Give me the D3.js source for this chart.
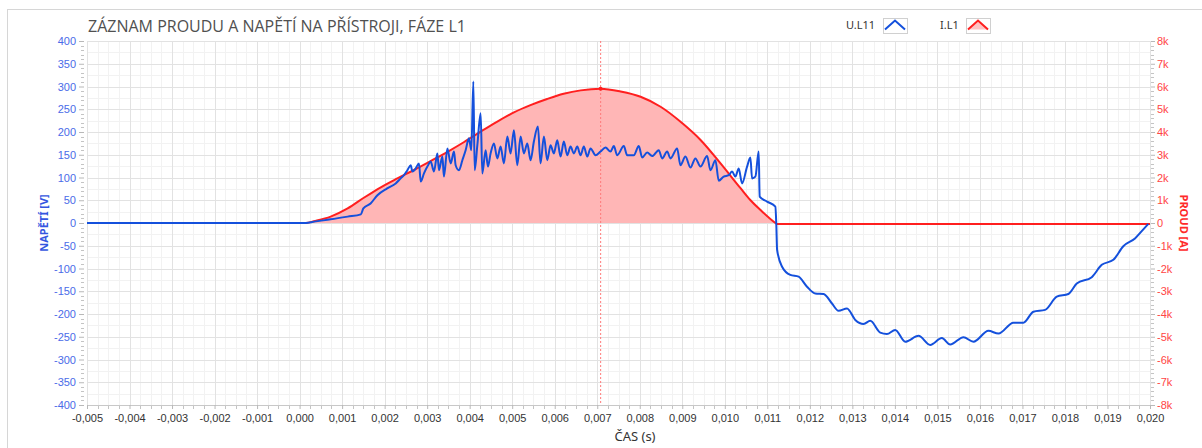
<!DOCTYPE html>
<html lang="cs">
<head>
<meta charset="UTF-8">
<title>Záznam proudu a napětí</title>
<style>
    body { margin: 0; background: #fff; }
    svg { display: block; font-family: "Noto Sans", "Open Sans", sans-serif; }
    .grid-major line { stroke: #e2e2e2; stroke-width: 1px; }
    .grid-minor line { stroke: #f2f2f2; stroke-width: 1px; }
    .axis path { stroke: #c8c8c8; }
    .axis .tick line { stroke: #b8b8b8; }
    .minor-tick line { stroke: #c4c4c4; }
</style>
</head>
<body>
<script src="https://cdn.jsdelivr.net/npm/d3@7"></script>
<script>
    const width = 1202, height = 448;
    const margin = {top: 41, right: 52, bottom: 43, left: 87};

    // time axis in milliseconds, labels shown in seconds
    const timeTicksMs = d3.range(-5, 20.001, 1);
    const voltageTicks = d3.range(-400, 400.001, 50);
    const currentTicks = d3.range(-8000, 8000.001, 1000);

    // I.L1 current [A]
    const currentTimeMs = [-5, 0.15, 0.34, 0.73, 1.13, 1.52, 1.91, 2.30, 2.69, 3.08, 3.48, 3.87, 4.26, 4.65,
        5.04, 5.43, 5.82, 6.21, 6.61, 7.08, 7.55, 8.02, 8.49, 8.96, 9.43, 9.90, 10.37, 10.60, 10.84,
        11.19, 11.22, 20];
    const currentA = [0, 0, 80, 280, 640, 1120, 1570, 1960, 2330, 2720, 3130, 3560, 4020, 4460,
        4860, 5180, 5450, 5680, 5830, 5900, 5780, 5550, 5110, 4450, 3650, 2620, 1530, 1010, 570,
        0, -40, -40];

    // U.L11 voltage [V]
    const voltageTimeMs = [-5, 0.15, 0.34, 0.73, 1.13, 1.44, 1.50, 1.67, 1.83, 2.06, 2.26,
        2.378, 2.455, 2.535, 2.613, 2.653, 2.730, 2.808, 2.848, 2.925, 3.005, 3.083, 3.160, 3.240, 3.278,
        3.358, 3.395, 3.475, 3.553, 3.630, 3.670, 3.748, 3.828, 3.905, 3.983, 4.039, 4.086, 4.117, 4.180,
        4.258, 4.297, 4.375, 4.429, 4.492, 4.570, 4.650, 4.727, 4.805, 4.885, 4.962, 5.040, 5.120, 5.197,
        5.275, 5.355, 5.432, 5.510, 5.604, 5.667, 5.745, 5.825, 5.902, 5.980, 6.060, 6.137, 6.215, 6.295,
        6.372, 6.450, 6.530, 6.607, 6.685, 6.765, 6.842, 6.960, 7.077, 7.195, 7.312, 7.390, 7.470, 7.625,
        7.704, 7.860, 7.977, 8.057, 8.174, 8.292, 8.447, 8.527, 8.644, 8.722, 8.879, 8.957, 9.074, 9.192,
        9.309, 9.427, 9.584, 9.662, 9.779, 9.857, 9.974, 10.092, 10.171, 10.249, 10.327, 10.406, 10.524,
        10.602, 10.641, 10.719, 10.797, 10.820, 10.994, 11.189, 11.212, 11.23,
        11.347, 11.541, 11.736, 11.934, 12.129, 12.324, 12.521, 12.676, 12.874, 13.069, 13.264, 13.421,
        13.656, 13.813, 14.008, 14.243, 14.556, 14.831, 15.105, 15.301, 15.613, 15.848, 16.201, 16.436,
        16.788, 17.023, 17.258, 17.533, 17.808, 18.080, 18.278, 18.630, 18.865, 19.138, 19.372, 19.647,
        19.843, 19.960];
    const voltageV = [0, 0, 3, 8, 14, 19, 32, 43, 61, 76, 87,
        98, 105, 116, 127, 113, 120, 131, 91, 109, 124, 135, 113, 153, 116,
        146, 102, 164, 131, 157, 127, 116, 138, 160, 186, 160, 311, 116, 171,
        241, 109, 160, 124, 153, 175, 142, 168, 131, 190, 153, 204, 127, 190,
        153, 175, 138, 179, 212, 131, 190, 138, 171, 153, 182, 146, 179, 149,
        168, 153, 168, 149, 168, 146, 164, 149, 157, 166, 157, 169, 149, 169,
        149, 149, 169, 144, 155, 147, 160, 142, 157, 142, 164, 127, 146, 122,
        142, 124, 147, 116, 138, 93, 102, 105, 113, 102, 120, 87, 124,
        144, 98, 102, 157, 58, 47, 36, -5, -59,
        -96, -114, -118, -140, -155, -156, -177, -193, -188, -213, -222, -215,
        -241, -244, -235, -261, -248, -268, -253, -267, -251, -261, -237, -243,
        -219, -219, -195, -191, -162, -156, -133, -119, -92, -81, -51, -34,
        -14, -2];

    const peakTimeMs = 7.08;

    const blue = "#1450dc", red = "#ff1f1f";

    const svg = d3.select("body").append("svg")
        .attr("width", width)
        .attr("height", height);

    // outer frame
    svg.append("rect")
        .attr("x", 7.5).attr("y", 9.5)
        .attr("width", width).attr("height", height)
        .attr("fill", "none").attr("stroke", "#d6d6d6");

    const x = d3.scaleLinear().domain([-5, 20]).range([margin.left, width - margin.right]);
    const yV = d3.scaleLinear().domain([-400, 400]).range([height - margin.bottom, margin.top]);
    const yA = d3.scaleLinear().domain([-8000, 8000]).range([height - margin.bottom, margin.top]);

    const plotTop = margin.top, plotBottom = height - margin.bottom;
    const plotLeft = margin.left, plotRight = width - margin.right;

    // grid
    const minorX = d3.range(-5, 20.001, 0.25).filter(d => Math.abs(d - Math.round(d)) > 1e-6);
    const minorV = d3.range(-400, 400.001, 10).filter(d => d % 50 !== 0);

    svg.append("g").attr("class", "grid-minor")
        .selectAll("line").data(minorX).enter().append("line")
        .attr("x1", d => Math.round(x(d)) + 0.5).attr("x2", d => Math.round(x(d)) + 0.5)
        .attr("y1", plotTop).attr("y2", plotBottom);
    svg.append("g").attr("class", "grid-minor")
        .selectAll("line").data(d3.range(-375, 400, 50)).enter().append("line")
        .attr("y1", d => Math.round(yV(d)) + 0.5).attr("y2", d => Math.round(yV(d)) + 0.5)
        .attr("x1", plotLeft).attr("x2", plotRight);

    svg.append("g").attr("class", "grid-major")
        .selectAll("line").data(timeTicksMs).enter().append("line")
        .attr("x1", d => Math.round(x(d)) + 0.5).attr("x2", d => Math.round(x(d)) + 0.5)
        .attr("y1", plotTop).attr("y2", plotBottom);
    svg.append("g").attr("class", "grid-major")
        .selectAll("line").data(voltageTicks).enter().append("line")
        .attr("y1", d => Math.round(yV(d)) + 0.5).attr("y2", d => Math.round(yV(d)) + 0.5)
        .attr("x1", plotLeft).attr("x2", plotRight);

    // current area + line
    const currentData = currentTimeMs.map((t, i) => [t, currentA[i]]);
    const voltageData = voltageTimeMs.map((t, i) => [t, voltageV[i]]);

    svg.append("path")
        .datum(currentData)
        .attr("fill", "#ffb6b6")
        .attr("d", d3.area()
            .x(d => x(d[0]))
            .y0(yA(0))
            .y1(d => yA(d[1]))
            .curve(d3.curveMonotoneX));

    // peak cursor
    svg.append("line")
        .attr("x1", x(peakTimeMs)).attr("x2", x(peakTimeMs))
        .attr("y1", plotTop).attr("y2", plotBottom)
        .attr("stroke", "#ff7a7a").attr("stroke-width", 1)
        .attr("stroke-dasharray", "2,2");

    svg.append("path")
        .datum(currentData)
        .attr("fill", "none")
        .attr("stroke", red)
        .attr("stroke-width", 2)
        .attr("d", d3.line()
            .x(d => x(d[0]))
            .y(d => yA(d[1]))
            .curve(d3.curveMonotoneX));

    svg.append("path")
        .datum(voltageData)
        .attr("fill", "none")
        .attr("stroke", blue)
        .attr("stroke-width", 2)
        .attr("stroke-linejoin", "round")
        .attr("d", d3.line()
            .x(d => x(d[0]))
            .y(d => yV(d[1]))
            .curve(d3.curveMonotoneX));

    svg.append("circle")
        .attr("cx", x(peakTimeMs)).attr("cy", yA(5900)).attr("r", 2)
        .attr("fill", red);

    // axes
    const xAxis = svg.append("g").attr("class", "axis")
        .attr("transform", `translate(0,${plotBottom})`)
        .call(d3.axisBottom(x).tickValues(timeTicksMs).tickSize(4).tickPadding(5)
            .tickFormat(d => (d / 1000).toFixed(3).replace(".", ",")));
    xAxis.selectAll("text").attr("fill", "#333").style("font-size", "11px");

    const leftAxis = svg.append("g").attr("class", "axis")
        .attr("transform", `translate(${plotLeft - 3},0)`)
        .call(d3.axisLeft(yV).tickValues(voltageTicks).tickSize(5).tickPadding(3)
            .tickFormat(d => String(d)));
    leftAxis.select("path").remove();
    leftAxis.selectAll("text").attr("fill", "#4a6be8").style("font-size", "11px");

    const rightAxis = svg.append("g").attr("class", "axis")
        .attr("transform", `translate(${plotRight + 1},0)`)
        .call(d3.axisRight(yA).tickValues(currentTicks).tickSize(4).tickPadding(2)
            .tickFormat(d => d === 0 ? "0" : (d / 1000) + "k"));
    rightAxis.select("path").remove();
    rightAxis.selectAll("text").attr("fill", "#ff4545").style("font-size", "11px");

    // minor ticks
    svg.append("g").attr("class", "minor-tick")
        .selectAll("line").data(minorV).enter().append("line")
        .attr("x1", plotLeft - 6).attr("x2", plotLeft - 3)
        .attr("y1", d => Math.round(yV(d)) + 0.5).attr("y2", d => Math.round(yV(d)) + 0.5);
    svg.append("g").attr("class", "minor-tick")
        .selectAll("line").data(minorV).enter().append("line")
        .attr("x1", plotRight + 1).attr("x2", plotRight + 4)
        .attr("y1", d => Math.round(yV(d)) + 0.5).attr("y2", d => Math.round(yV(d)) + 0.5);
    svg.append("g").attr("class", "minor-tick")
        .selectAll("line").data(minorX).enter().append("line")
        .attr("x1", d => Math.round(x(d)) + 0.5).attr("x2", d => Math.round(x(d)) + 0.5)
        .attr("y1", plotBottom + 1).attr("y2", plotBottom + 4);

    // titles
    svg.append("text")
        .attr("x", 88).attr("y", 32)
        .attr("fill", "#505050")
        .style("font-family", "'Open Sans', sans-serif")
        .style("font-size", "16px")
        .text("ZÁZNAM PROUDU A NAPĚTÍ NA PŘÍSTROJI, FÁZE L1");

    svg.append("text")
        .attr("transform", `translate(48,${yV(0)}) rotate(-90)`)
        .attr("text-anchor", "middle")
        .attr("fill", "#3456e0")
        .style("font-size", "11px").style("font-weight", "bold")
        .text("NAPĚTÍ [V]");

    svg.append("text")
        .attr("transform", `translate(1180,${yA(0)}) rotate(90)`)
        .attr("text-anchor", "middle")
        .attr("fill", "#ff2a2a")
        .style("font-size", "11px").style("font-weight", "bold")
        .text("PROUD [A]");

    svg.append("text")
        .attr("x", 635).attr("y", 441)
        .attr("text-anchor", "middle")
        .attr("fill", "#333")
        .style("font-size", "13px")
        .text("ČAS (s)");

    // legend
    const legendItems = [
        {name: "U.L11", color: blue, tx: 846, bx: 883, fill: null},
        {name: "I.L1", color: red, tx: 940, bx: 966, fill: "#ffc4c4"}
    ];
    const legend = svg.append("g").selectAll("g").data(legendItems).enter().append("g");
    legend.append("text")
        .attr("x", d => d.tx).attr("y", 29)
        .attr("fill", "#333")
        .style("font-size", "11px")
        .text(d => d.name);
    legend.append("rect")
        .attr("x", d => d.bx + 0.5).attr("y", 18.5)
        .attr("width", 24).attr("height", 15)
        .attr("fill", "#fff").attr("stroke", "#d0d0d0");
    legend.filter(d => d.fill).append("path")
        .attr("d", d => `M${d.bx + 2},${29.5}L${d.bx + 12},${20.5}L${d.bx + 22},${29.5}Z`)
        .attr("fill", d => d.fill);
    legend.append("path")
        .attr("d", d => `M${d.bx + 2},${29.5}L${d.bx + 12},${20.5}L${d.bx + 22},${29.5}`)
        .attr("fill", "none")
        .attr("stroke", d => d.color)
        .attr("stroke-width", 2);
</script>
</body>
</html>
